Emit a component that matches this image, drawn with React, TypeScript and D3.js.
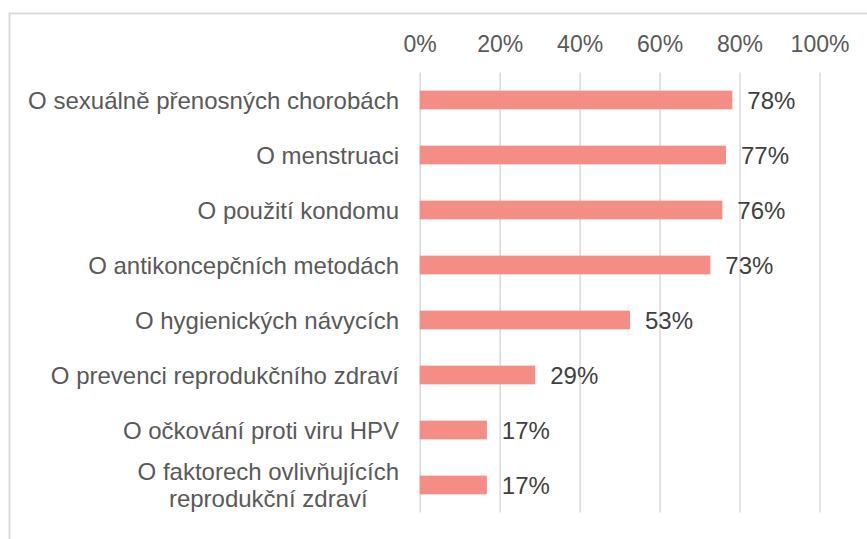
import * as d3 from "d3";
import { useEffect, useRef } from "react";

const categories = [
  "O sexuálně přenosných chorobách",
  "O menstruaci",
  "O použití kondomu",
  "O antikoncepčních metodách",
  "O hygienických návycích",
  "O prevenci reprodukčního zdraví",
  "O očkování proti viru HPV",
  "O faktorech ovlivňujících\nreprodukční zdraví",
];
const values = [0.782, 0.766, 0.757, 0.727, 0.526, 0.289, 0.168, 0.168];
const xTicks = [0, 0.2, 0.4, 0.6, 0.8, 1];

const W = 867;
const H = 539;
const FONT = "'Liberation Sans', Arial, sans-serif";

const App = () => {
  const svgRef = useRef<SVGSVGElement | null>(null);

  useEffect(() => {
    const svg = d3.select(svgRef.current);
    svg.selectAll("*").remove();

    const x = d3.scaleLinear().domain([0, 1]).range([419.7, 819.5]);
    const y = d3
      .scaleBand<string>()
      .domain(categories)
      .range([72.5, 512.5])
      .paddingInner(0.66)
      .paddingOuter(0.33);
    const fmt = d3.format(".0%");

    // chart frame (only top and left edges are visible)
    svg
      .append("path")
      .attr("d", `M9.5,${H} V13.5 H${W}`)
      .attr("fill", "none")
      .attr("stroke", "#d9d9d9")
      .attr("stroke-width", 2);

    // x-axis on top, with gridlines
    const axis = svg
      .append("g")
      .attr("transform", "translate(0, 72.5)")
      .call(
        d3
          .axisTop(x)
          .tickValues(xTicks)
          .tickFormat((d) => fmt(d as number))
          .tickSize(-440)
          .tickPadding(21)
      );
    axis.select(".domain").remove();
    axis
      .selectAll(".tick line")
      .attr("stroke", "#d9d9d9")
      .attr("stroke-width", 1.5);
    axis
      .selectAll(".tick text")
      .attr("fill", "#595959")
      .style("font-family", FONT)
      .style("font-size", "23px");

    // bars
    svg
      .append("g")
      .selectAll("rect")
      .data(values)
      .join("rect")
      .attr("x", x(0))
      .attr("y", (_, i) => y(categories[i]) as number)
      .attr("width", (d) => x(d) - x(0))
      .attr("height", y.bandwidth())
      .attr("fill", "#f38d86");

    // value labels
    svg
      .append("g")
      .selectAll("text")
      .data(values)
      .join("text")
      .attr("x", (d) => x(d) + 15)
      .attr("y", (_, i) => (y(categories[i]) as number) + y.bandwidth() / 2)
      .attr("dy", "0.36em")
      .attr("fill", "#404040")
      .style("font-family", FONT)
      .style("font-size", "24px")
      .text((d) => fmt(d));

    // category labels
    const labelRight = 399;
    const lineHeight = 27;
    const labels = svg.append("g");
    categories.forEach((cat) => {
      const lines = cat.split("\n");
      const cy = (y(cat) as number) + y.bandwidth() / 2;
      const g = labels.append("g");
      const texts = lines.map((line, j) =>
        g
          .append("text")
          .attr("y", cy + (j - (lines.length - 1) / 2) * lineHeight)
          .attr("dy", "0.36em")
          .attr("fill", "#595959")
          .style("font-family", FONT)
          .style("font-size", "24px")
          .text(line)
      );
      const widths = texts.map((t) => (t.node() as SVGTextElement).getComputedTextLength());
      const maxW = d3.max(widths) ?? 0;
      const center = labelRight - maxW / 2;
      texts.forEach((t) => t.attr("x", center).attr("text-anchor", "middle"));
    });
  }, []);

  return (
    <svg
      ref={svgRef}
      width={W}
      height={H}
      style={{ position: "absolute", left: 0, top: 0, background: "#fff" }}
    />
  );
};

export default App;
